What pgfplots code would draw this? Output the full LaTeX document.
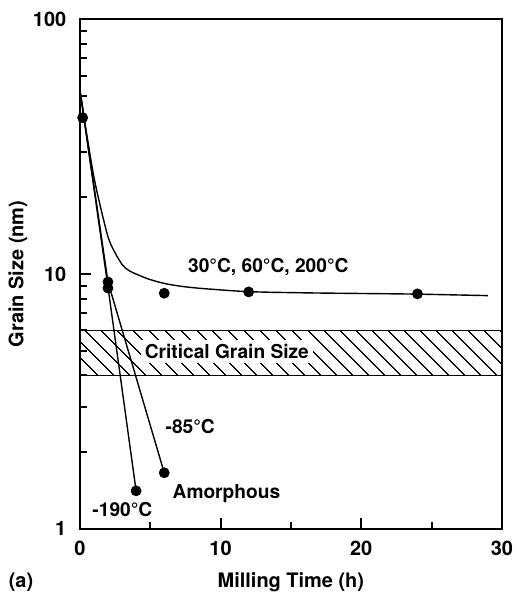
\documentclass[border=0pt]{standalone}
\usepackage{fontspec}
\setmainfont{TeX Gyre Heros}
\usepackage{pgfplots}
\pgfplotsset{compat=1.18}
\usetikzlibrary{patterns.meta}
\begin{document}
\begin{tikzpicture}[font=\fontsize{10bp}{12bp}\selectfont\bfseries]
\begin{axis}[
  scale only axis, width=211.5bp, height=255.5bp,
  xmin=0, xmax=30, ymin=1, ymax=100, ymode=log,
  axis line style={line width=1bp},
  xtick={0,10,20,30}, minor xtick={5,15,25},
  xticklabels={0,10,20,30},
  ytick={1,10,100}, yticklabels={1,10,100},
  minor ytick={2,3,4,5,6,7,8,9,20,30,40,50,60,70,80,90},
  tick align=inside, xtick pos=bottom, ytick pos=left,
  major tick length=5.5bp, minor tick length=3.5bp,
  tick style={line width=1bp, black},
  /pgf/number format/assume math mode=true,
  ticklabel style={font=\fontsize{10bp}{12bp}\selectfont\bfseries},
  xticklabel style={yshift=-2.5bp},
  yticklabel style={xshift=-3.3bp},
  xlabel={Milling Time (h)}, ylabel={Grain Size (nm)},
  every axis x label/.style={at={(rel axis cs:0.5,0)}, yshift=-26.5bp, anchor=center},
  every axis y label/.style={at={(rel axis cs:0,0.5)}, xshift=-31bp, rotate=90, anchor=center},
  clip=false,
]
% critical grain size band
\addplot[draw=none, pattern={Lines[angle=-45, distance=6bp, line width=0.6bp]}] coordinates {(0,4) (30,4) (30,6) (0,6)} -- cycle;
\addplot[black, line width=0.8bp] coordinates {(0,6) (30,6)};
\addplot[black, line width=0.8bp] coordinates {(0,4) (30,4)};
\node[fill=white, inner sep=2bp, font=\fontsize{9.6bp}{11bp}\selectfont\bfseries] at (axis cs:10.45,4.97) {Critical Grain Size};

% 30, 60, 200 C curve
\addplot[black, line width=0.7bp, smooth, tension=0.5] coordinates {
(0,53) (0.5,35) (1,24) (1.5,18) (2,14) (2.4,12.4) (3,10.9) (3.5,10.3) (4.26,9.85) (5,9.5) (6.15,9.14) (7.5,8.9) (9,8.74) (12,8.52) (16,8.43) (20,8.38) (24,8.33) (29,8.22)};
% -190 C line
\addplot[black, line width=0.7bp] coordinates {(0,53) (2,8.9) (4,1.41)};
% -85 C line
\addplot[black, line width=0.7bp] coordinates {(0,53) (2,9.3) (6,1.66)};
% data points
\addplot[only marks, mark=*, mark size=2.5bp, black] coordinates {
(0.2,41) (2,9.3) (2,8.8) (6,8.4) (12,8.5) (24,8.35) (4,1.41) (6,1.66)};

\node[anchor=west, font=\fontsize{9.6bp}{11bp}\selectfont\bfseries] at (axis cs:7.2,10.6) {30°C, 60°C, 200°C};
\node[anchor=west, font=\fontsize{9.6bp}{11bp}\selectfont\bfseries] at (axis cs:5.6,2.52) {-85°C};
\node[anchor=west, font=\fontsize{9.6bp}{11bp}\selectfont\bfseries] at (axis cs:6.1,1.37) {Amorphous};
\node[anchor=west, font=\fontsize{9.6bp}{11bp}\selectfont\bfseries] at (axis cs:0.4,1.187) {-190°C};

\coordinate (ll) at (rel axis cs:0,0);
\coordinate (ur) at (rel axis cs:1,1);
\end{axis}
\node[anchor=center] at ([shift={(-29.5bp,-26.5bp)}]ll) {(a)};
\path[use as bounding box] ([shift={(-40bp,-34bp)}]ll) rectangle ([shift={(8.5bp,9.5bp)}]ur);
\end{tikzpicture}
\end{document}
